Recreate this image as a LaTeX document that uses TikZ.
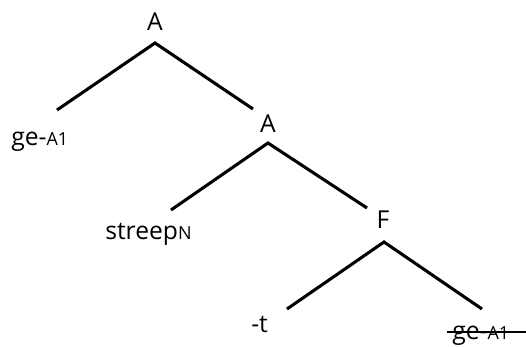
\documentclass[tikz,border=0pt]{standalone}
\usepackage{fontspec}
\setsansfont{Open Sans}
\newcommand{\subsz}{\fontsize{13.5}{14}\selectfont}

\begin{document}
\begin{tikzpicture}[
  x=0.75pt, y=-0.75pt,
  every node/.style={font=\sffamily\fontsize{18.5}{20}\selectfont,inner sep=0pt,anchor=base},
  branch/.style={line width=2.3pt},
  strike/.style={line width=1.8pt}
]
  \clip (0,0) rectangle (526,347);
  \node (topA) at (155,30) {A};
  \node[anchor=base west] (ge) at (11,145) {ge-{\subsz A1}};
  \node (midA) at (268,132) {A};
  \node[anchor=base west] (streep) at (105,239) {streep{\subsz N}};
  \node (F) at (383,228) {F};
  \node[anchor=base west] (t) at (251,332) {-t};
  \node[anchor=base west] (geb) at (452,339) {ge-{\subsz A1}};

  \draw[branch] ([shift={(46,-35)}]ge.base west) -- ([shift={(0,13)}]topA.base) -- ([shift={(-15,-23)}]midA.base);
  \draw[branch] ([shift={(66,-29)}]streep.base west) -- ([shift={(0,11)}]midA.base) -- ([shift={(-16,-20)}]F.base);
  \draw[branch] ([shift={(36,-23)}]t.base west) -- ([shift={(1,14)}]F.base) -- ([shift={(30,-30)}]geb.base west);
  \draw[strike] ([shift={(-5,-7)}]geb.base west) -- ++(90,0);
\end{tikzpicture}
\end{document}
